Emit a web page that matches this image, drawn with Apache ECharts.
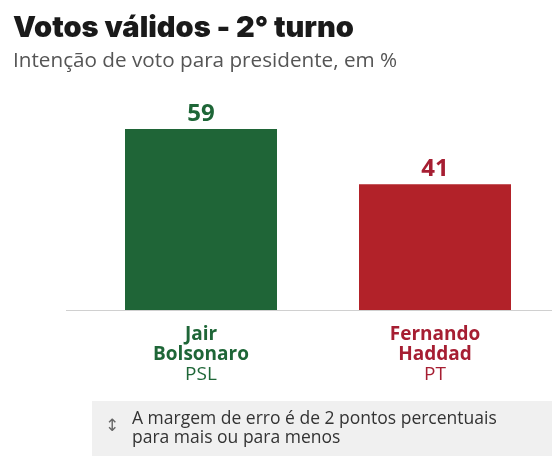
<!DOCTYPE html>
<html>
<head>
<meta charset="utf-8">
<script src="https://cdn.jsdelivr.net/npm/echarts@6/dist/echarts.min.js"></script>
<style>
  html, body { margin: 0; padding: 0; background: #fff; }
  #chart { width: 552px; height: 456px; }
</style>
</head>
<body>
<div id="chart"></div>
<script>
// dados
var candidates = ['Jair\nBolsonaro', 'Fernando\nHaddad']
var parties = ['PSL', 'PT']
var votes = [59, 41]
var barColors = ['#1f6537', '#b22229']
var textColors = ['#1e6637', '#a61e32']

var chart = echarts.init(document.getElementById('chart'))

var option = {
  animation: false,
  title: {
    text: 'Votos válidos - 2° turno',
    subtext: 'Intenção de voto para presidente, em %',
    left: 8,
    top: 9,
    itemGap: 8,
    textStyle: { fontFamily: 'Inter', fontWeight: 900, fontSize: 29, color: '#1a1a1a' },
    subtextStyle: { fontFamily: 'Open Sans', fontSize: 20.7, color: '#555' }
  },
  grid: { left: 84, right: 0, top: 126, bottom: 146 },
  xAxis: {
    type: 'category',
    data: candidates,
    axisLine: { show: false },
    axisTick: { show: false },
    axisLabel: {
      margin: 15,
      formatter: function (v, i) {
        var k = i === 0 ? 'g' : 'r'
        return '{' + k + 'b|' + v + '}\n{' + k + '|' + parties[i] + '}'
      },
      rich: {
        gb: { fontFamily: 'Open Sans', fontWeight: 'bold', fontSize: 19, lineHeight: 20, color: textColors[0] },
        g: { fontFamily: 'Open Sans', fontSize: 19, lineHeight: 20, color: textColors[0] },
        rb: { fontFamily: 'Open Sans', fontWeight: 'bold', fontSize: 19, lineHeight: 20, color: textColors[1] },
        r: { fontFamily: 'Open Sans', fontSize: 19, lineHeight: 20, color: textColors[1] }
      }
    }
  },
  yAxis: { type: 'value', min: 0, max: 60, show: false, splitLine: { show: false } },
  series: [{
    type: 'bar',
    barWidth: 152,
    data: votes.map(function (v, i) {
      return {
        value: v,
        itemStyle: { color: barColors[i] },
        label: { color: textColors[i] }
      }
    }),
    label: {
      show: true,
      position: 'top',
      distance: 3,
      fontFamily: 'Open Sans',
      fontWeight: 'bold',
      fontSize: 24
    }
  }],
  graphic: [
    { type: 'line', shape: { x1: 66, y1: 310.5, x2: 552, y2: 310.5 }, style: { stroke: '#d0d0d0', lineWidth: 1 }, z: 10 },
    { type: 'rect', shape: { x: 92, y: 401, width: 460, height: 55 }, style: { fill: '#f0f0f0' } },
    { type: 'text', x: 105, y: 418, style: { text: '↕', font: '17px "DejaVu Sans"', fill: '#666' } },
    { type: 'text', x: 132, y: 410, style: {
        text: 'A margem de erro é de 2 pontos percentuais\npara mais ou para menos',
        font: '17.5px "Open Sans"', lineHeight: 19, fill: '#333'
      } }
  ]
}

chart.setOption(option)
</script>
</body>
</html>
